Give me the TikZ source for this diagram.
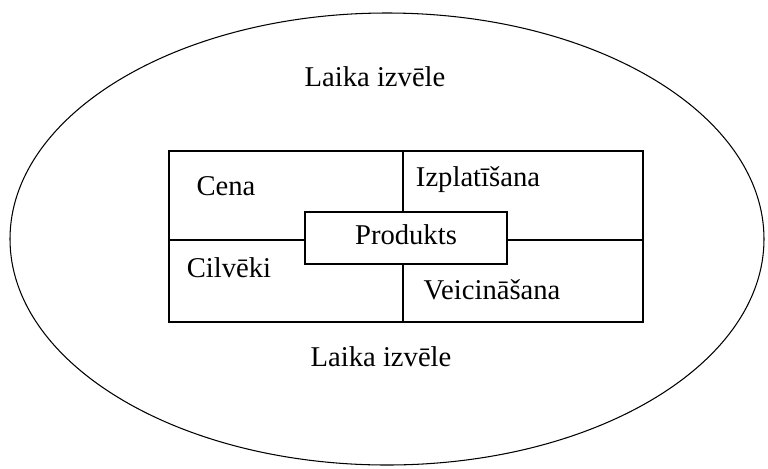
\documentclass[tikz,border=0pt]{standalone}
\usepackage{fontspec}
\setmainfont{Liberation Serif}
\begin{document}
\begin{tikzpicture}[x=0.02cm,y=-0.02cm,
    every node/.style={font=\fontsize{16.3}{19}\selectfont},
    field/.style={inner sep=0pt},
    box/.style={draw,line width=0.8pt,inner sep=0pt}]
        \useasboundingbox (0,0) rectangle (768,468);

        % outer oval
        \draw[line width=0.6pt] (387,239) ellipse [x radius=377, y radius=226];

        \node[field] (top) at (375,77) {Laika izv\=ele};
        \node[field] (bottom) at (381,357) {Laika izv\=ele};

        % frame and centre box
        \node[box,minimum width=9.48cm,minimum height=3.42cm] (frame) at (406,236.5) {};
        \node[box,minimum width=4.04cm,minimum height=1.04cm] (prod) at (406,238) {};
        \node[field] at (prod) [yshift=0.06cm] {Produkts};
        \coordinate (mid) at (403,240);

        \draw[line width=0.8pt] (frame.north -| mid) -- (prod.north -| mid);
        \draw[line width=0.8pt] (prod.south -| mid) -- (frame.south -| mid);
        \draw[line width=0.8pt] (frame.west |- mid) -- (prod.west |- mid);
        \draw[line width=0.8pt] (prod.east |- mid) -- (frame.east |- mid);

        \node[field] (cena) at (226,186) {Cena};
        \node[field] (izpl) at (478,180) {Izplat\=\i\v{s}ana};
        \node[field] (cilv) at (229,268) {Cilv\=eki};
        \node[field] (veic) at (492,290) {Veicin\=a\v{s}ana};
    \end{tikzpicture}
\end{document}
